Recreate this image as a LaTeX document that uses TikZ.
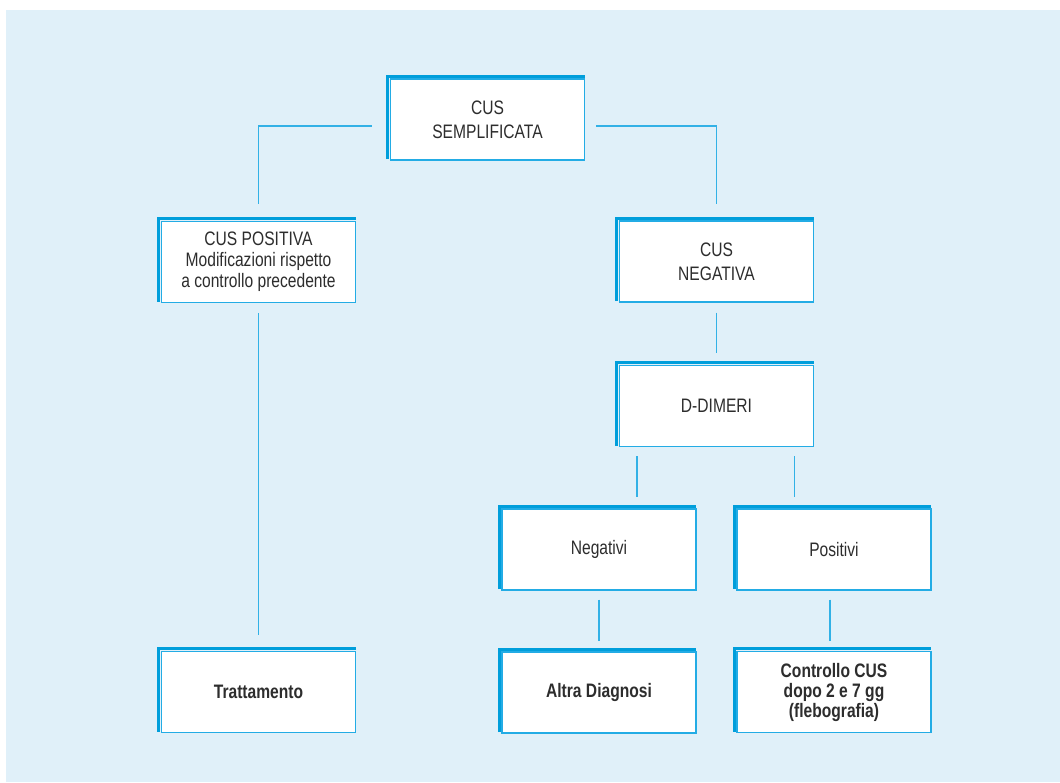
\documentclass[tikz,border=0pt]{standalone}
\usepackage{fontspec}
\setmainfont{Liberation Sans}[FakeStretch=0.8]
\usetikzlibrary{calc}
\definecolor{bgblue}{RGB}{224,240,249}
\definecolor{thickblue}{RGB}{0,158,219}
\definecolor{thinblue}{RGB}{35,172,229}
\definecolor{lineblue}{RGB}{50,177,230}
\definecolor{txtgray}{RGB}{45,45,45}

\begin{document}
\begin{tikzpicture}[x=0.5pt,y=-0.5pt,
  cbox/.style={draw=thinblue,line width=0.65pt,fill=white,minimum width=97pt,minimum height=40.5pt,
    inner sep=0pt,align=center,text=txtgray,font=\fontsize{9.75}{12}\selectfont},
  cboxs/.style={cbox,font=\fontsize{9.75}{10.5}\selectfont},
  cres/.style={cbox,font=\fontsize{9.75}{10}\selectfont\bfseries},
  conn/.style={draw=lineblue,line width=0.65pt},
  topedge/.style={draw=thickblue,line width=1.6pt}]

\useasboundingbox (0,0) rectangle (1060,782);
\fill[bgblue] (6,10) rectangle (1060,782);

\node[cbox] (sempl) at (487.5,119.5) {CUS\\SEMPLIFICATA};
\node[cboxs] (pos) at (258.5,262) {CUS POSITIVA\\Modificazioni rispetto\\a controllo precedente};
\node[cbox] (neg) at (716.5,261.5) {CUS\\NEGATIVA};
\node[cbox] (dd) at (716.5,406) {D-DIMERI};
\node[cbox] (nega) at (599,549.5) {Negativi};
\node[cbox] (posi) at (834,549.5) {Positivi};
\node[cres] (tratt) at (258.5,692) {Trattamento};
\node[cres] (altra) at (599,692.5) {Altra Diagnosi};
\node[cres] (ctrl) at (834,692) {Controllo CUS\\dopo 2 e 7 gg\\(flebografia)};

\foreach \n in {sempl,pos,neg,dd,nega,posi,tratt,altra,ctrl}
  \draw[topedge] ([shift={(-1.1pt,0.8pt)}]\n.south west) |- ([shift={(-0.3pt,1.1pt)}]\n.north east);

\draw[conn] ([shift={(-9pt,-3.25pt)}]sempl.west) -| ([yshift=8.5pt]pos.north);
\draw[conn] ([shift={(5.5pt,-3.25pt)}]sempl.east) -| ([yshift=8pt]neg.north);
\draw[conn] ([yshift=-5pt]neg.south) -- ([yshift=6pt]dd.north);
\draw[conn] ([shift={(9pt,-4.5pt)}]dd.south west) -- ($(dd.south west |- nega.north)+(9pt,5.5pt)$);
\draw[conn] ([shift={(-10pt,-4.5pt)}]dd.south east) -- ($(dd.south east |- posi.north)+(-10pt,5.5pt)$);
\draw[conn] ([yshift=-4.5pt]nega.south) -- ([yshift=5pt]altra.north);
\draw[conn] ([shift={(-2pt,-4.5pt)}]posi.south) -- ([shift={(-2pt,5pt)}]ctrl.north);
\draw[conn] ([yshift=-5pt]pos.south) -- ([yshift=8pt]tratt.north);
\end{tikzpicture}
\end{document}
